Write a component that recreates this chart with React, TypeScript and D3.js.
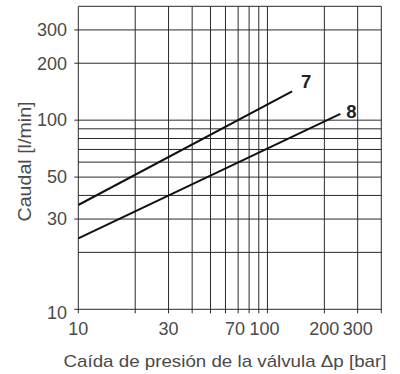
import React from "react";
import * as d3 from "d3";

// Pressure drop (bar) gridlines and labelled ticks
const xGrid = [10, 20, 30, 40, 50, 60, 70, 80, 90, 100, 200, 300, 400];
const xTickLabels = [10, 30, 70, 100, 200, 300];
// Flow (l/min) gridlines and labelled ticks
const yGrid = [10, 20, 30, 40, 50, 60, 70, 80, 90, 100, 200, 300, 400];
const yTickLabels = [10, 30, 50, 100, 200, 300];

// Flow curves: pressure drop vs flow
const dp7 = [10, 135];
const q7 = [35.6, 142];
const dp8 = [10, 243];
const q8 = [23.7, 108];

const W = 400;
const H = 374;

export default function App() {
  const x = d3.scaleLog().domain([10, 400]).range([78.3, 381.3]);
  const y = d3.scaleLog().domain([10, 400]).range([309.3, 6.3]);
  const line = d3
    .line<[number, number]>()
    .x((d) => x(d[0]))
    .y((d) => y(d[1]));

  const s7 = dp7.map((d, i) => [d, q7[i]] as [number, number]);
  const s8 = dp8.map((d, i) => [d, q8[i]] as [number, number]);

  const font = "'Liberation Sans', Arial, sans-serif";
  const grid = "#2a2a2a";
  const textFill = "#4a4a4a";

  return (
    <svg
      width={W}
      height={H}
      style={{ position: "absolute", left: 0, top: 0, background: "#fff" }}
      fontFamily={font}
    >
      {/* vertical gridlines, each extended below the frame as a tick */}
      {xGrid.map((v) => (
        <line
          key={"vx" + v}
          x1={x(v)}
          x2={x(v)}
          y1={y(400)}
          y2={y(10) + 4}
          stroke={grid}
          strokeWidth={1}
        />
      ))}
      {/* horizontal gridlines */}
      {yGrid.map((v) => (
        <line
          key={"hy" + v}
          x1={x(10) - (yTickLabels.includes(v) ? 4 : 0)}
          x2={x(400)}
          y1={y(v)}
          y2={y(v)}
          stroke={grid}
          strokeWidth={1}
        />
      ))}

      {/* tick labels */}
      {xTickLabels.map((v) => (
        <text
          key={"tx" + v}
          x={x(v) - (v === 70 || v === 100 ? 3 : 0)}
          y={335}
          textAnchor="middle"
          fontSize={18}
          fill={textFill}
        >
          {v}
        </text>
      ))}
      {yTickLabels.map((v) => (
        <text
          key={"ty" + v}
          x={67}
          y={y(v) + (v === 10 ? 3 : 0)}
          dy="0.35em"
          textAnchor="end"
          fontSize={18}
          fill={textFill}
        >
          {v}
        </text>
      ))}

      {/* flow curves */}
      <path d={line(s7) ?? ""} fill="none" stroke="#111" strokeWidth={2} />
      <path d={line(s8) ?? ""} fill="none" stroke="#111" strokeWidth={2} />
      <text
        x={x(dp7[1]) + 9}
        y={y(q7[1]) - 3}
        fontSize={18.5}
        fontWeight="bold"
        fill="#222"
      >
        7
      </text>
      <text
        x={x(dp8[1]) + 6}
        y={y(q8[1]) + 4.5}
        fontSize={18.5}
        fontWeight="bold"
        fill="#222"
      >
        8
      </text>

      {/* axis titles */}
      <text
        x={63.5}
        y={367}
        fontSize={17}
        textLength={323}
        lengthAdjust="spacingAndGlyphs"
        fill={textFill}
      >
        Caída de presión de la válvula Δp [bar]
      </text>
      <text
        transform="translate(31,221.5) rotate(-90)"
        fontSize={18.5}
        textLength={120}
        lengthAdjust="spacingAndGlyphs"
        fill={textFill}
      >
        Caudal [l/min]
      </text>
    </svg>
  );
}
